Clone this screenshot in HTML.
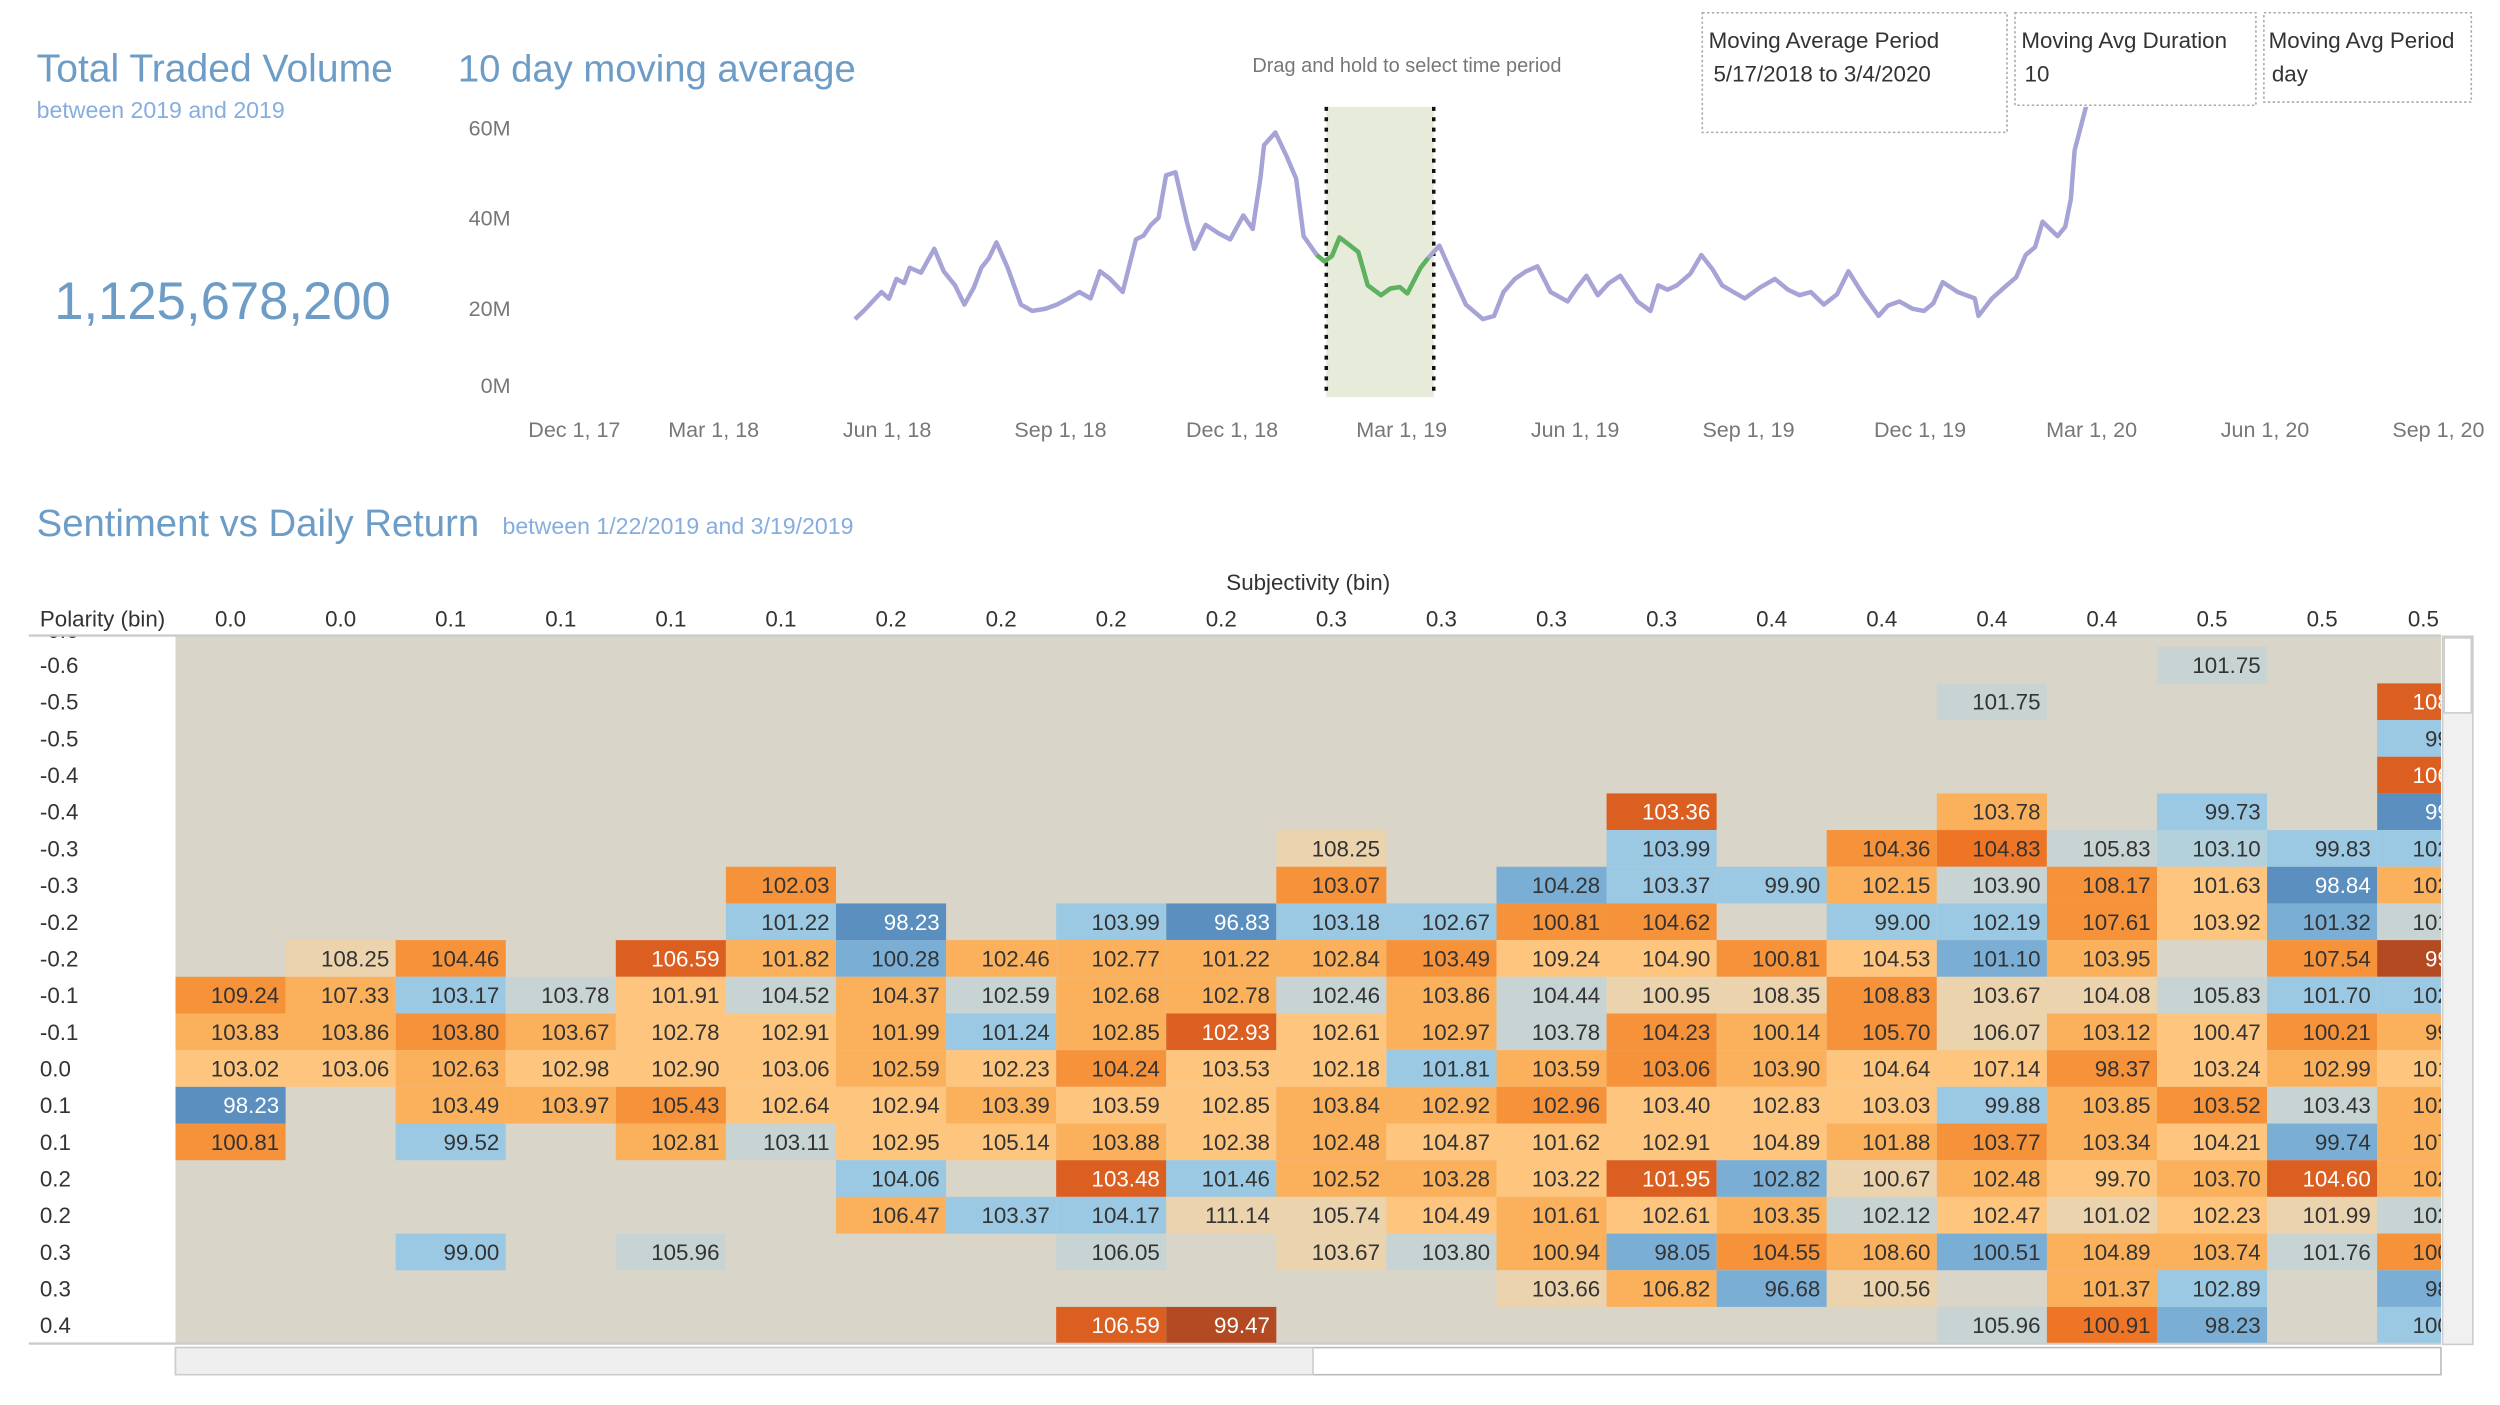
<!DOCTYPE html>
<html><head><meta charset="utf-8">
<style>
html,body{margin:0;padding:0;background:#fff;}
svg{display:block;}
text{font-family:"Liberation Sans Narrow","Liberation Sans",sans-serif;}
</style></head>
<body>
<svg id="root" width="2500" height="1405" viewBox="0 0 1567 881" preserveAspectRatio="none" xmlns="http://www.w3.org/2000/svg">
  <defs>
    <clipPath id="plotClip"><rect x="330" y="67" width="1230" height="184"/></clipPath>
    <clipPath id="heatClip"><rect x="110" y="399" width="1420" height="443"/></clipPath>
    <clipPath id="partialClip"><rect x="0" y="399" width="110" height="20"/></clipPath>
  </defs>
  <!-- KPI -->
  <text x="23" y="51" font-size="24.5" fill="#6d9cc6">Total Traded Volume</text>
  <text x="23" y="74" font-size="14.5" fill="#86ade0">between 2019 and 2019</text>
  <text x="34" y="200" font-size="33" fill="#6d9cc6">1,125,678,200</text>
  <!-- line chart title -->
  <text x="287" y="51" font-size="24" fill="#6d9cc6">10 day moving average</text>
  <text x="785" y="45" font-size="12.5" fill="#777">Drag and hold to select time period</text>
  <g id="lineChart"></g>
  <!-- parameter boxes -->
  <g>
    <rect x="1067" y="8" width="191" height="75" fill="#fff" stroke="#aaa" stroke-dasharray="1.5 1.5"/>
    <text x="1071" y="30" font-size="14" fill="#333">Moving Average Period</text>
    <text x="1074" y="51" font-size="14" fill="#333">5/17/2018 to 3/4/2020</text>
  </g>
  <g>
    <rect x="1263" y="8" width="151" height="58" fill="#fff" stroke="#aaa" stroke-dasharray="1.5 1.5"/>
    <text x="1267" y="30" font-size="14" fill="#333">Moving Avg Duration</text>
    <text x="1269" y="51" font-size="14" fill="#333">10</text>
  </g>
  <g>
    <rect x="1419" y="8" width="130" height="56" fill="#fff" stroke="#aaa" stroke-dasharray="1.5 1.5"/>
    <text x="1422" y="30" font-size="14" fill="#333">Moving Avg Period</text>
    <text x="1424" y="51" font-size="14" fill="#333">day</text>
  </g>
  <!-- heatmap title -->
  <text x="23" y="336" font-size="24" fill="#6d9cc6">Sentiment vs Daily Return</text>
  <text x="315" y="335" font-size="14.5" fill="#86ade0">between 1/22/2019 and 3/19/2019</text>
  <text x="820" y="370" font-size="14" fill="#333" text-anchor="middle">Subjectivity (bin)</text>
  <text x="25" y="393" font-size="14" fill="#333">Polarity (bin)</text>
  <g id="heatmap"></g>
  <!-- scrollbars -->
  <g>
    <rect x="1531" y="399" width="19" height="444" fill="#f0f0f0" stroke="#ccc" stroke-width="1"/>
    <rect x="1532" y="400" width="17" height="47" fill="#fff" stroke="#ccc" stroke-width="1"/>
  </g>
  <g>
    <rect x="110" y="845" width="1420" height="17" fill="#fff" stroke="#bbb" stroke-width="1"/>
    <rect x="110" y="845" width="713" height="17" fill="#efefef" stroke="#ccc" stroke-width="1"/>
  </g>
</svg>
<script>
const NS = "http://www.w3.org/2000/svg";
// ---------- line chart data ----------
// days since 2017-12-01
const maDays = [165,170,179,183,187,191,194,200,207,212,218,223,228,232,236,240,246,253,259,266,272,278,284,290,295,300,307,314,318,322,326,330,335,341,345,351,358,364,371,376,380,382,388,394,399,403,410,414,418,422,427,432,437,444,449,454,458,465,469,475,481,489,498,504,509,515,521,527,534,543,548,553,559,565,571,580,587,591,596,601,608,614,620,625,631,637,645,653,660,666,672,679,686,692,700,708,713,719,726,732,737,742,750,759,761,768,776,781,786,791,795,799,803,807,810,812,818,823];
const maValues = [17.5,19.5,23.5,22.0,26.4,25.5,28.9,27.8,33.1,28.1,25.0,20.7,24.5,28.9,31.0,34.5,28.9,20.7,19.3,19.8,20.7,22.0,23.5,22.1,28.1,26.5,23.5,35.2,36.0,38.4,40.0,49.4,50.1,39.1,33.1,38.4,36.5,35.2,40.5,37.5,48.7,56.1,58.9,53.6,48.7,35.9,31.7,30.3,31.5,35.6,34.0,32.4,25.0,22.8,24.3,24.6,23.2,28.9,31.0,33.8,28.1,20.7,17.5,18.2,23.5,26.4,28.1,29.2,23.5,21.4,24.5,27.1,22.8,25.5,27.1,21.4,19.3,25.0,24.0,25.0,27.5,31.7,28.5,25.0,23.5,22.1,24.5,26.4,24.0,22.8,23.5,20.7,23.0,28.1,22.8,18.2,20.5,21.4,19.8,19.3,21.0,25.7,23.5,22.1,18.2,22.0,25.0,26.8,31.7,33.5,39.1,37.5,35.9,38.0,44.1,55.0,64.6,70.0];
const selStartDay = 415, selEndDay = 472;
const yTicks = [0,20,40,60];
const yTickLabels = ["0M","20M","40M","60M"];
const xTickDays = [0,90,182,274,365,455,547,639,730,821,913,1005];
const xTickLabels = ["Dec 1, 17","Mar 1, 18","Jun 1, 18","Sep 1, 18","Dec 1, 18","Mar 1, 19","Jun 1, 19","Sep 1, 19","Dec 1, 19","Mar 1, 20","Jun 1, 20","Sep 1, 20"];

const xScale = d => 341 + d * 1.1815;
const yScale = v => 249.5 - v * 56.5 / 20;

const lc = document.getElementById('lineChart');
function mk(tag, attrs, parent){
  const e = document.createElementNS(NS, tag);
  for (const k in attrs) e.setAttribute(k, attrs[k]);
  (parent||lc).appendChild(e); return e;
}
yTicks.forEach((v,i)=>{
  const t = mk('text',{x:320,y:yScale(v)+5 - (v===0?8:0),'font-size':13.5,fill:'#777','text-anchor':'end'});
  t.textContent = yTickLabels[i];
  
  
});
xTickDays.forEach((d,i)=>{
  const t = mk('text',{x:xScale(d)+ (i===0?19:0),y:274,'font-size':13.5,fill:'#777','text-anchor':'middle'});
  t.textContent = xTickLabels[i];
  
  
});
const band = mk('rect',{x:xScale(selStartDay),y:67,width:xScale(selEndDay)-xScale(selStartDay),height:182,fill:'#e6ecd9'});


[selStartDay, selEndDay].forEach(d=>{
  const l = mk('line',{x1:xScale(d),x2:xScale(d),y1:67,y2:249,stroke:'#111','stroke-width':2.2,'stroke-dasharray':'2.5 4'});
  
  
});
const g = mk('g',{'clip-path':'url(#plotClip)'});
function pathFor(filter){
  let p='';let first=true;
  maDays.forEach((d,i)=>{ if(!filter(d)) return; p += (first?'M':'L') + xScale(d).toFixed(1)+','+yScale(maValues[i]).toFixed(1); first=false; });
  return p;
}
const purple = mk('path',{d:pathFor(()=>true),fill:'none',stroke:'#a6a4d6','stroke-width':2.8,'stroke-linejoin':'round'},g);


const green = mk('path',{d:pathFor(d=>d>=410&&d<=469),fill:'none',stroke:'#5cb25d','stroke-width':2.8,'stroke-linejoin':'round'},g);



// ---------- heatmap data ----------
const polarityLabels = ["-0.6","-0.5","-0.5","-0.4","-0.4","-0.3","-0.3","-0.2","-0.2","-0.1","-0.1","0.0","0.1","0.1","0.2","0.2","0.3","0.3","0.4"];
const subjectivityLabels = ["0.0","0.0","0.1","0.1","0.1","0.1","0.2","0.2","0.2","0.2","0.3","0.3","0.3","0.3","0.4","0.4","0.4","0.4","0.5","0.5","0.5"];
const _ = null;
const returnValues = [
[_,_,_,_,_,_,_,_,_,_,_,_,_,_,_,_,_,_,101.75,_,_],
[_,_,_,_,_,_,_,_,_,_,_,_,_,_,_,_,101.75,_,_,_,108.40],
[_,_,_,_,_,_,_,_,_,_,_,_,_,_,_,_,_,_,_,_,99.50],
[_,_,_,_,_,_,_,_,_,_,_,_,_,_,_,_,_,_,_,_,106.20],
[_,_,_,_,_,_,_,_,_,_,_,_,_,103.36,_,_,103.78,_,99.73,_,99.10],
[_,_,_,_,_,_,_,_,_,_,108.25,_,_,103.99,_,104.36,104.83,105.83,103.10,99.83,102.50],
[_,_,_,_,_,102.03,_,_,_,_,103.07,_,104.28,103.37,99.90,102.15,103.90,108.17,101.63,98.84,102.80],
[_,_,_,_,_,101.22,98.23,_,103.99,96.83,103.18,102.67,100.81,104.62,_,99.00,102.19,107.61,103.92,101.32,101.90],
[_,108.25,104.46,_,106.59,101.82,100.28,102.46,102.77,101.22,102.84,103.49,109.24,104.90,100.81,104.53,101.10,103.95,_,107.54,99.20],
[109.24,107.33,103.17,103.78,101.91,104.52,104.37,102.59,102.68,102.78,102.46,103.86,104.44,100.95,108.35,108.83,103.67,104.08,105.83,101.70,102.30],
[103.83,103.86,103.80,103.67,102.78,102.91,101.99,101.24,102.85,102.93,102.61,102.97,103.78,104.23,100.14,105.70,106.07,103.12,100.47,100.21,99.60],
[103.02,103.06,102.63,102.98,102.90,103.06,102.59,102.23,104.24,103.53,102.18,101.81,103.59,103.06,103.90,104.64,107.14,98.37,103.24,102.99,101.50],
[98.23,_,103.49,103.97,105.43,102.64,102.94,103.39,103.59,102.85,103.84,102.92,102.96,103.40,102.83,103.03,99.88,103.85,103.52,103.43,102.10],
[100.81,_,99.52,_,102.81,103.11,102.95,105.14,103.88,102.38,102.48,104.87,101.62,102.91,104.89,101.88,103.77,103.34,104.21,99.74,107.20],
[_,_,_,_,_,_,104.06,_,103.48,101.46,102.52,103.28,103.22,101.95,102.82,100.67,102.48,99.70,103.70,104.60,102.70],
[_,_,_,_,_,_,106.47,103.37,104.17,111.14,105.74,104.49,101.61,102.61,103.35,102.12,102.47,101.02,102.23,101.99,102.40],
[_,_,99.00,_,105.96,_,_,_,106.05,_,103.67,103.80,100.94,98.05,104.55,108.60,100.51,104.89,103.74,101.76,100.90],
[_,_,_,_,_,_,_,_,_,_,_,_,103.66,106.82,96.68,100.56,_,101.37,102.89,_,98.50],
[_,_,_,_,_,_,_,_,106.59,99.47,_,_,_,_,_,_,105.96,100.91,98.23,_,100.30]
];
const cellTones = [
"..................G..",
"................G...D",
"....................B",
"....................D",
".............D..L.B.K",
"..........T..B.OEGHBB",
".....O....O.MBBLGOPKL",
".....BK.BKBBOO.BBOPMG",
".TO.DLMLLLLOPPOPML.OR",
"OLBGPGLGLLGLGTTOTTGBB",
"LLOLPPLBLDPLGOLOTLPOL",
"PPLPPPLPOPPBLOLPPOPLP",
"K.LLOPPLPPLLOPPPBLOGL",
"O.B.LGPPLPLPPPPLOLPML",
"......B.DBLLPDMTLPLDL",
"......LBBTTPLPLGPTPTG",
"..B.G...G.TGLMOLMLLGO",
"............TLMT.LB.M",
"........DR......GEM.B"
];
const toneColor = {D:'#dc5f22',E:'#ee7526',O:'#f5923a',L:'#fbb15c',P:'#fdc57e',T:'#ebd3ad',G:'#c8d4d4',H:'#b3d0dd',B:'#9bc9e3',M:'#7aaed5',K:'#5b8fbf',R:'#b34a22'};
const whiteText = {D:1,K:1,R:1};

const hm = document.getElementById('heatmap');
const colX = c => 110 + c * 69;
const rowY = r => 405.5 + r * 23;
const colW = 69, rowH = 23;

subjectivityLabels.forEach((s,c)=>{
  const t = mk('text',{x:Math.min(colX(c)+colW/2, 1519),y:393,'font-size':14,fill:'#333','text-anchor':'middle'},hm);
  t.textContent = s;
  
  
});
const pg = mk('g',{'clip-path':'url(#partialClip)'},hm);
const pt = mk('text',{x:25,y:400,'font-size':14,fill:'#333'},pg);
pt.textContent = "-0.6";


polarityLabels.forEach((p,r)=>{
  const t = mk('text',{x:25,y:rowY(r)+rowH/2+5,'font-size':14,fill:'#333'},hm);
  t.textContent = p;
  
  
});
const bg = mk('rect',{x:110,y:399,width:1420,height:443,fill:'#d9d5c9'},hm);


mk('line',{x1:18,x2:1530,y1:398.5,y2:398.5,stroke:'#ccc','stroke-width':1.5},hm);
mk('line',{x1:18,x2:1530,y1:842.5,y2:842.5,stroke:'#ccc','stroke-width':1.5},hm);
const cg = mk('g',{'clip-path':'url(#heatClip)'},hm);
returnValues.forEach((row,r)=>{
  row.forEach((v,c)=>{
    if (v === null) return;
    const tone = cellTones[r][c] === '.' ? 'G' : cellTones[r][c];
    const rect = mk('rect',{x:colX(c),y:rowY(r),width:colW,height:rowH,fill:toneColor[tone]},cg);
    
    
    const t = mk('text',{x:colX(c)+colW-4,y:rowY(r)+rowH/2+5,'font-size':14,fill:whiteText[tone]?'#fff':'#333','text-anchor':'end'},cg);
    t.textContent = v.toFixed(2);
    
    
  });
});
</script>
</body></html>
